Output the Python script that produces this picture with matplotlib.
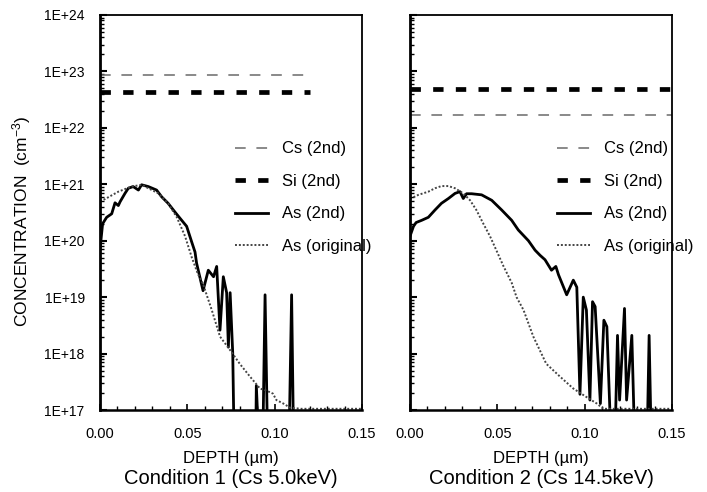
import numpy as np
import matplotlib
matplotlib.use("Agg")
import matplotlib.pyplot as plt
from matplotlib.ticker import LogLocator, MultipleLocator, FixedLocator, NullFormatter

plt.rcParams['font.family'] = ['Liberation Sans', 'DejaVu Sans']
plt.rcParams['mathtext.fontset'] = 'custom'
plt.rcParams['mathtext.rm'] = 'Liberation Sans'
plt.rcParams['mathtext.it'] = 'Liberation Sans'

# ---- data (depth in um, concentration in cm^-3) ----
# values below 1E+17 are under the detection floor (drawn off the axis)
c1_matrix_depth = [0.0, 0.12]
c1_cs = [8.7e22, 8.7e22]
c1_si = [4.3e22, 4.3e22]

c1_as2_depth = [0.000, 0.0015, 0.0038, 0.0067, 0.0086, 0.0105, 0.0115, 0.0143, 0.0162,
                0.019, 0.022, 0.0238, 0.0277, 0.0324, 0.0353, 0.039, 0.043, 0.0458,
                0.0496, 0.0525, 0.0544, 0.0553, 0.059, 0.062, 0.065, 0.0668, 0.0687,
                0.0706, 0.0725, 0.0735, 0.0745, 0.076, 0.077, 0.089, 0.0895, 0.0915,
                0.093, 0.0945, 0.0962, 0.108, 0.1097, 0.111, 0.15]
c1_as2 = [7e19, 2e20, 2.6e20, 3e20, 4.7e20, 4.2e20, 4.9e20, 6.9e20, 8.5e20,
          9.1e20, 7.9e20, 9.8e20, 9.1e20, 7.9e20, 6.0e20, 4.6e20, 3.2e20, 2.5e20,
          1.8e20, 9.5e19, 6.3e19, 4.0e19, 1.3e19, 3.0e19, 2.3e19, 3.5e19, 2.6e18,
          2.3e19, 1.2e19, 1.3e18, 1.2e19, 1.0e18, 1e16, 1e16, 2.7e17, 1e16,
          1e16, 1.1e19, 1e16, 1e16, 1.1e19, 1e16, 1e16]

c1_orig_depth = [0.000, 0.003, 0.0105, 0.018, 0.024, 0.0277, 0.0334, 0.039, 0.044,
                 0.0487, 0.0525, 0.056, 0.059, 0.064, 0.0687, 0.0745, 0.080, 0.0859,
                 0.0916, 0.0954, 0.099, 0.101, 0.105, 0.1088, 0.115, 0.15]
c1_orig = [5.0e20, 5.5e20, 7.4e20, 9.1e20, 9.8e20, 8.5e20, 6.9e20, 4.6e20, 2.6e20,
           1.2e20, 5.1e19, 2.6e19, 1.7e19, 5.9e18, 2.0e18, 1.15e18, 6.6e17, 3.9e17,
           2.4e17, 2.2e17, 1.95e17, 1.5e17, 1.3e17, 1.1e17, 1.05e17, 1.05e17]

c2_matrix_depth = [0.0, 0.15]
c2_cs = [1.7e22, 1.7e22]
c2_si = [4.9e22, 4.9e22]

c2_as2_depth = [0.000, 0.002, 0.0035, 0.0067, 0.0105, 0.0143, 0.018, 0.022, 0.0258,
                0.0286, 0.0305, 0.0324, 0.0353, 0.041, 0.0468, 0.0525, 0.0582, 0.062,
                0.0678, 0.0716, 0.0745, 0.0773, 0.081, 0.0835, 0.085, 0.0897, 0.0935,
                0.0955, 0.0973, 0.0992, 0.101, 0.103, 0.1045, 0.106, 0.109, 0.111,
                0.1127, 0.1156, 0.117, 0.1188, 0.120, 0.1228, 0.124, 0.127, 0.129,
                0.1355, 0.1369, 0.1384, 0.15]
c2_as2 = [1.2e20, 1.8e20, 2.1e20, 2.3e20, 2.6e20, 3.5e20, 4.6e20, 5.6e20, 6.9e20,
          7.4e20, 5.6e20, 6.8e20, 6.8e20, 6.5e20, 5.2e20, 3.5e20, 2.3e20, 1.55e20,
          1.0e20, 6.8e19, 5.5e19, 4.6e19, 3.0e19, 3.5e19, 2.5e19, 1.1e19, 2.0e19,
          1.5e19, 1.9e17, 1.0e19, 5.9e18, 1.5e17, 8.3e18, 6.8e18, 1.3e17, 3.9e18,
          3.0e18, 1e16, 1e16, 2.1e18, 1.5e17, 6.3e18, 1.5e17, 2.1e18, 1e16,
          1e16, 2.1e18, 1e16, 1e16]

c2_orig_depth = [0.000, 0.0048, 0.0105, 0.0143, 0.018, 0.022, 0.0258, 0.0305, 0.0344,
                 0.038, 0.042, 0.0458, 0.0497, 0.0534, 0.0582, 0.061, 0.065, 0.0706,
                 0.078, 0.0859, 0.0935, 0.101, 0.107, 0.1107, 0.15]
c2_orig = [5.5e20, 6.5e20, 7.4e20, 8.5e20, 9.3e20, 9.3e20, 8.5e20, 6.9e20, 5.2e20,
           3.5e20, 2.0e20, 1.2e20, 6.5e19, 3.6e19, 1.8e19, 1.0e19, 5.9e18, 2.0e18,
           6.6e17, 3.9e17, 2.4e17, 1.7e17, 1.3e17, 1.05e17, 1.05e17]

ytick_vals = [1e17, 1e18, 1e19, 1e20, 1e21, 1e22, 1e23, 1e24]
ytick_labels = ['1E+17', '1E+18', '1E+19', '1E+20', '1E+21', '1E+22', '1E+23', '1E+24']
xtick_vals = [0.0, 0.05, 0.10, 0.15]
xtick_labels = ['0.00', '0.05', '0.10', '0.15']
titles = ['Condition 1 (Cs 5.0keV)', 'Condition 2 (Cs 14.5keV)']
legend_labels = ['Cs (2nd)', 'Si (2nd)', 'As (2nd)', 'As (original)']

W, H = 707, 492
fig = plt.figure(figsize=(W / 100, H / 100), dpi=100)


def px_axes(x0, x1, y0, y1):
    return fig.add_axes([x0 / W, 1 - y1 / H, (x1 - x0) / W, (y1 - y0) / H])


ax1 = px_axes(100, 362, 15, 410)
ax2 = px_axes(410, 672, 15, 410)

panels = [
    (ax1, c1_matrix_depth, c1_cs, c1_si, c1_as2_depth, c1_as2, c1_orig_depth, c1_orig),
    (ax2, c2_matrix_depth, c2_cs, c2_si, c2_as2_depth, c2_as2, c2_orig_depth, c2_orig),
]

for i, (ax, md, cs, si, ad, a2, od, ao) in enumerate(panels):
    ax.plot(md, cs, color='#6a6a6a', lw=1.1, linestyle=(0, (7, 7)))
    ax.plot(md, si, color='black', lw=3.4, linestyle=(0, (2.2, 2.6)))
    ax.plot(ad, a2, color='black', lw=2.0)
    ax.plot(od, ao, color='#444444', lw=1.4, linestyle=(0, (1, 1)))

    ax.set_yscale('log')
    ax.set_xlim(0, 0.15)
    ax.set_ylim(1e17, 1e24)
    ax.yaxis.set_major_locator(FixedLocator(ytick_vals))
    ax.yaxis.set_minor_locator(LogLocator(base=10, subs=np.arange(2, 10)))
    ax.yaxis.set_minor_formatter(NullFormatter())
    ax.xaxis.set_major_locator(FixedLocator(xtick_vals))
    ax.xaxis.set_minor_locator(MultipleLocator(0.01))
    ax.set_xticklabels(xtick_labels)
    if i == 0:
        ax.set_yticklabels(ytick_labels)
    else:
        ax.set_yticklabels([])
    ax.tick_params(axis='both', which='both', direction='in', top=False, right=False)
    ax.tick_params(axis='y', which='major', length=5, width=1.5, labelsize=10, pad=11)
    ax.tick_params(axis='y', which='minor', length=3, width=1.0)
    ax.tick_params(axis='x', which='major', length=4, width=1.2, labelsize=10.5, pad=12)
    ax.tick_params(axis='x', which='minor', length=3, width=1.0)
    for side, sp in ax.spines.items():
        sp.set_linewidth(1.3)
    ax.spines['left'].set_linewidth(2.0)
    ax.spines['bottom'].set_linewidth(1.8)

    leg_x = 0.515 if i == 0 else 0.561
    ax.legend(legend_labels, loc='upper left', bbox_to_anchor=(leg_x, 0.68),
              frameon=False, fontsize=12, handlelength=2.0, handletextpad=0.85,
              labelspacing=1.05, borderpad=0, borderaxespad=0)

    cx = (ax.get_position().x0 + ax.get_position().x1) / 2
    fig.text(cx, 1 - 458 / H, 'DEPTH (µm)', ha='center', va='center', fontsize=12)
    fig.text(cx, 1 - 479 / H, titles[i], ha='center', va='center', fontsize=14.5)

fig.text(22 / W, 1 - 221 / H, r'CONCENTRATION  (cm$^{-3}$)', rotation=90,
         ha='center', va='center', fontsize=12.5)

fig.savefig('out.png', dpi=100)
